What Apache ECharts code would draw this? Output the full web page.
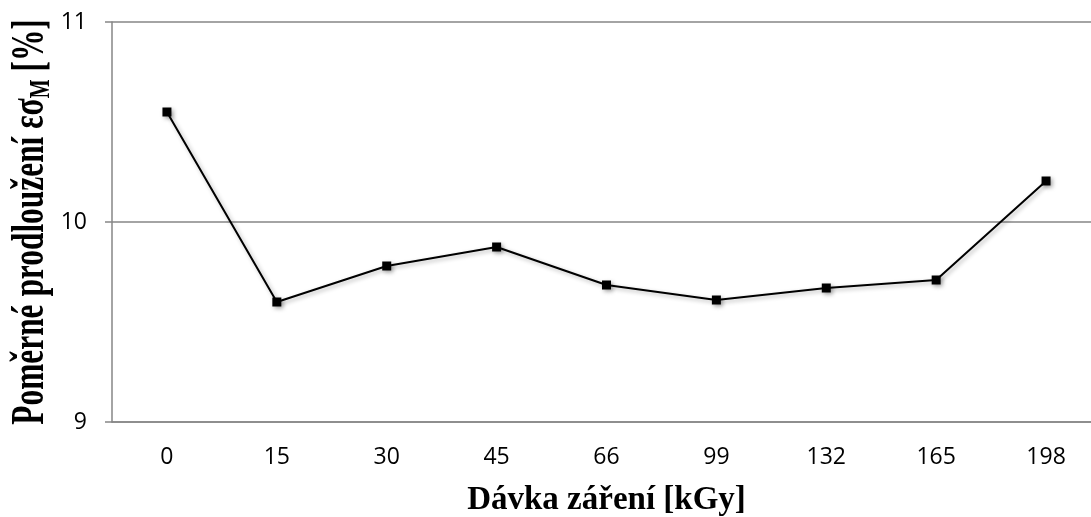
<!DOCTYPE html>
<html><head><meta charset="utf-8">
<script src="https://cdn.jsdelivr.net/npm/echarts@6/dist/echarts.min.js"></script>
<style>html,body{margin:0;padding:0;background:#fff}#c{width:1091px;height:517px}</style>
</head><body><div id="c"></div>
<script>
const categories = ['0','15','30','45','66','99','132','165','198'];
const values = [10.55, 9.60, 9.78, 9.875, 9.685, 9.61, 9.67, 9.71, 10.205];
const yTicks = [9, 10, 11];
const xTitle = 'Dávka záření [kGy]';
const yTitle = '{a|Poměrné prodloužení εσ}{s|M}{a| [%]}';

const chart = echarts.init(document.getElementById('c'));
chart.setOption({
  animation: false,
  graphic: [{
    type: 'text', x: 31, y: 222, rotation: Math.PI / 2, scaleX: 0.668, scaleY: 1,
    style: {
      text: yTitle, align: 'center', verticalAlign: 'middle',
      rich: {
        a: {fontFamily: 'Liberation Serif', fontWeight: 'bold', fontSize: 47, fill: '#000', color: '#000'},
        s: {fontFamily: 'Liberation Serif', fontWeight: 'bold', fontSize: 30, fill: '#000', color: '#000', verticalAlign: 'bottom', padding: [20,0,0,0]}
      }
    }
  }],
  grid: {left: 112, right: -10, top: 22, bottom: 95, containLabel: false, outerBoundsMode: 'none'},
  xAxis: {
    type: 'category', data: categories, boundaryGap: true,
    name: xTitle, nameLocation: 'middle', nameGap: 62,
    nameTextStyle: {fontFamily: 'Liberation Serif', fontWeight: 'bold', fontSize: 33, color: '#000'},
    axisLine: {lineStyle: {color: '#868686', width: 1.5}},
    axisTick: {show: false},
    axisLabel: {fontFamily: 'Open Sans', fontSize: 23, color: '#000', margin: 24}
  },
  yAxis: {
    type: 'value', min: yTicks[0], max: yTicks[yTicks.length-1], interval: 1,
    axisLine: {show: true, lineStyle: {color: '#868686', width: 1.5}},
    axisTick: {show: true, length: 7, lineStyle: {color: '#868686', width: 1.5}},
    splitLine: {lineStyle: {color: '#868686', width: 1.5}},
    axisLabel: {fontFamily: 'Open Sans', fontSize: 23, color: '#000', margin: 25}
  },
  series: [{
    type: 'line', data: values,
    symbol: 'rect', symbolSize: 9,
    itemStyle: {color: '#000', shadowColor: 'rgba(0,0,0,0.35)', shadowBlur: 4, shadowOffsetX: 2, shadowOffsetY: 2},
    lineStyle: {color: '#000', width: 2, shadowColor: 'rgba(0,0,0,0.3)', shadowBlur: 4, shadowOffsetX: 2, shadowOffsetY: 2}
  }]
});
</script></body></html>
